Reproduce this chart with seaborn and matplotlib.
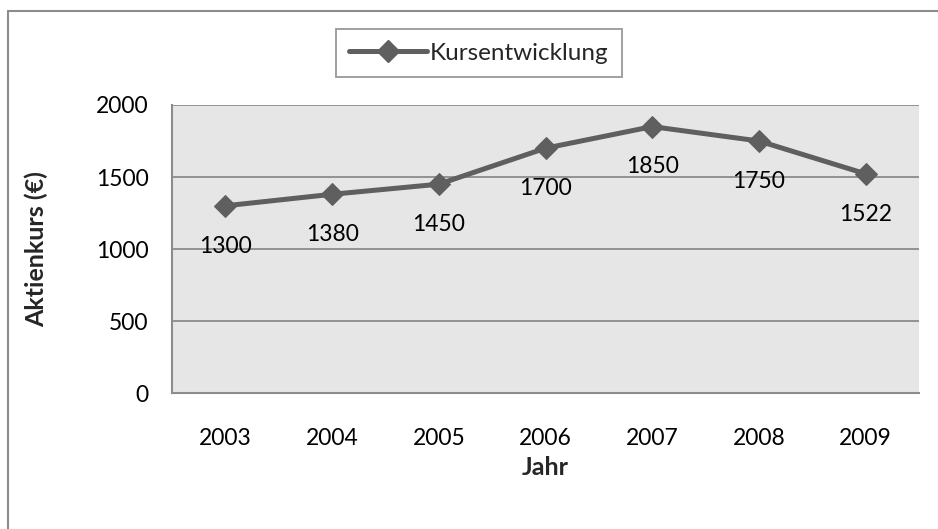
import matplotlib.pyplot as plt
import matplotlib.lines as mlines
import pandas as pd
import seaborn as sns

# Data
years = ['2003', '2004', '2005', '2006', '2007', '2008', '2009']
kurs = [1300, 1380, 1450, 1700, 1850, 1750, 1522]
series_name = 'Kursentwicklung'
y_ticks = [0, 500, 1000, 1500, 2000]

df = pd.DataFrame({'Jahr': years, 'Kurs': kurs})

sns.set_style('white')
plt.rcParams['font.family'] = ['Lato', 'DejaVu Sans']

line_col = '#5f5f5f'
grid_col = '#8c8c8c'

fig = plt.figure(figsize=(9.38, 5.29), dpi=100)
ax = fig.add_axes([172 / 938, 1 - 393 / 529, 747 / 938, 288 / 529])
ax.set_facecolor('#e6e6e6')

sns.lineplot(x='Jahr', y='Kurs', data=df, ax=ax, color=line_col, linewidth=3.6,
             marker='D', markersize=11, markeredgecolor=line_col,
             label=series_name, sort=False)

# data labels below the points
for i, v in enumerate(kurs):
    ax.annotate(str(v), (i, v), xytext=(0, -29), textcoords='offset points',
                ha='center', va='center', fontsize=16.5, color='black')

ax.set_xlim(-0.5, 6.5)
ax.set_ylim(0, 2000)
ax.set_yticks(y_ticks)
ax.yaxis.grid(True, color=grid_col, linewidth=1.3)
ax.set_axisbelow(True)
ax.tick_params(axis='both', length=0, labelsize=16.5, colors='black')
ax.tick_params(axis='x', pad=25)
ax.tick_params(axis='y', pad=17)

for side in ['top', 'right']:
    ax.spines[side].set_visible(False)
for side in ['left', 'bottom']:
    ax.spines[side].set_color(grid_col)
    ax.spines[side].set_linewidth(1.5)

ax.set_xlabel('Jahr', fontsize=18, fontweight='bold', labelpad=5)
ax.set_ylabel('Aktienkurs (€)', fontsize=18, fontweight='bold', labelpad=34)

handle = mlines.Line2D([], [], color=line_col, linewidth=3.6, marker='D',
                       markersize=11, markeredgecolor=line_col)
leg = ax.legend([handle], [series_name], loc='center',
                bbox_to_anchor=(479 / 938, 1 - 53 / 529),
                bbox_transform=fig.transFigure, fontsize=17.5, frameon=True,
                fancybox=False, handlelength=3.2, handletextpad=0.12,
                borderpad=0.55, borderaxespad=0)
leg.get_frame().set_edgecolor('#7f7f7f')
leg.get_frame().set_linewidth(1.3)

# outer chart frame (left and top visible)
fig.add_artist(mlines.Line2D([8 / 938, 8 / 938], [0, 1 - 11 / 529],
                             transform=fig.transFigure, color=grid_col, linewidth=1.5))
fig.add_artist(mlines.Line2D([8 / 938, 1], [1 - 11 / 529, 1 - 11 / 529],
                             transform=fig.transFigure, color=grid_col, linewidth=1.5))

fig.savefig('out.png', dpi=100)
